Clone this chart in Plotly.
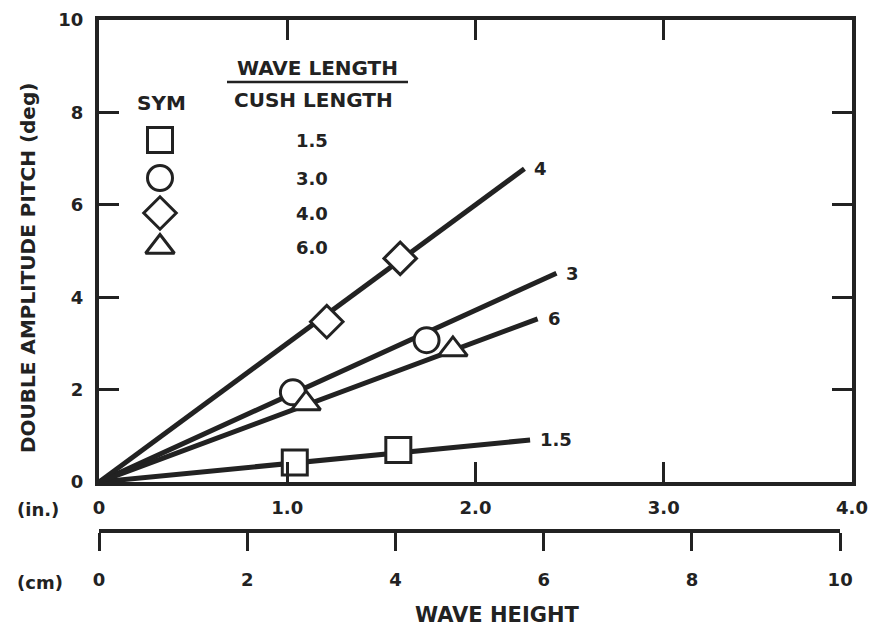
import plotly.graph_objs as go

# wave length / cushion length ratios
ratios = ['1.5', '3.0', '4.0', '6.0']
end_labels = ['1.5', '3', '4', '6']
symbols = ['square', 'circle', 'diamond', 'triangle-up']

# measured points (wave height in., double amplitude pitch deg)
pts_x = {'1.5': [1.04, 1.59], '3.0': [1.03, 1.74], '4.0': [1.21, 1.60], '6.0': [1.10, 1.88]}
pts_y = {'1.5': [0.42, 0.69], '3.0': [1.94, 3.07], '4.0': [3.47, 4.84], '6.0': [1.70, 2.87]}

# faired lines through the origin, end points
end_x = {'1.5': 2.29, '3.0': 2.43, '4.0': 2.26, '6.0': 2.33}
end_y = {'1.5': 0.91, '3.0': 4.52, '4.0': 6.78, '6.0': 3.53}

in_ticks = [0, 1, 2, 3, 4]
in_text = ['0', '1.0', '2.0', '3.0', '4.0']
cm_ticks = [0, 2, 4, 6, 8, 10]
y_ticks = [0, 2, 4, 6, 8, 10]

ink = '#222222'
font = dict(family='DejaVu Sans', size=18, color=ink, weight='bold')

# the page body adds 8px around the figure
OFF = 8
W, H = 878 - OFF, 632 - OFF
# figure geometry (pixels)
L, R, T, B = 99 - OFF, 852 - OFF, 20 - OFF, 531 - OFF
PLOT_BOTTOM = 482 - OFF


# page pixel -> paper / data coordinates (for the hand-placed legend)
def ppx(x):
    return (x - OFF - L) / (R - L)


def ppy(y):
    return (B - (y - OFF)) / (B - T)


def dx(x):
    return (x - OFF - L) / (R - L) * 4


def dy(y):
    return (PLOT_BOTTOM - (y - OFF)) / (PLOT_BOTTOM - T) * 10


data = []
for r in ratios:
    data.append(go.Scatter(x=[0, end_x[r]], y=[0, end_y[r]], mode='lines',
                           line=dict(color=ink, width=5), showlegend=False,
                           hoverinfo='skip'))
for r, s in zip(ratios, symbols):
    data.append(go.Scatter(x=pts_x[r], y=pts_y[r], mode='markers',
                           marker=dict(symbol=s, size=25, color='white',
                                       line=dict(color=ink, width=3)),
                           name=r, showlegend=False))

# legend symbols
leg_y = [140, 178, 213, 247]
data.append(go.Scatter(x=[dx(160)] * 4, y=[dy(v) for v in leg_y], mode='markers',
                       marker=dict(symbol=symbols, size=25, color='white',
                                   line=dict(color=ink, width=3)),
                       showlegend=False, hoverinfo='skip'))

# dummy trace so the cm scale is drawn
data.append(go.Scatter(x=[0], y=[0], xaxis='x2', yaxis='y', mode='markers',
                       marker=dict(opacity=0), showlegend=False, hoverinfo='skip'))

ann = []
for r, lab in zip(ratios, end_labels):
    ann.append(dict(x=end_x[r], y=end_y[r], xref='x', yref='y', text=lab,
                    showarrow=False, xanchor='left', yanchor='middle', xshift=8,
                    font=font))
hand = []
for v, ty in zip(ratios, leg_y):
    hand.append(dict(x=ppx(312), y=ppy(ty), text=v, font=font))
hand += [
    dict(x=ppx(161), y=ppy(103), text='SYM', font=dict(font, size=20)),
    dict(x=ppx(317), y=ppy(68), text='WAVE LENGTH', font=dict(font, size=20)),
    dict(x=ppx(313), y=ppy(100), text='CUSH LENGTH', font=dict(font, size=20)),
    dict(x=ppx(38), y=ppy(509), text='(in.)', font=font),
    dict(x=ppx(40), y=ppy(582), text='(cm)', font=font),
    dict(x=ppx(497), y=ppy(615), text='WAVE HEIGHT', font=dict(font, size=21)),
    dict(x=ppx(28), y=ppy(268), text='DOUBLE AMPLITUDE PITCH (deg)', textangle=-90,
         font=dict(font, size=20)),
]
for a in hand:
    a.update(xref='paper', yref='paper', showarrow=False,
             xanchor='center', yanchor='middle')
ann += hand

layout = go.Layout(
    width=W, height=H,
    margin=dict(l=L, r=W - R, t=T, b=H - B),
    paper_bgcolor='white', plot_bgcolor='rgba(0,0,0,0)',
    font=font,
    xaxis=dict(domain=[0, 1], range=[0, 4], anchor='y', automargin=False,
               tickvals=in_ticks, ticktext=in_text,
               ticks='inside', ticklen=20, tickwidth=3, tickcolor=ink,
               showline=True, linewidth=4, linecolor=ink, mirror='ticks',
               showgrid=False, zeroline=False, ticklabelstandoff=6),
    yaxis=dict(domain=[(B - PLOT_BOTTOM) / (B - T), 1], range=[0, 10], automargin=False,
               tickvals=y_ticks,
               ticks='inside', ticklen=20, tickwidth=3, tickcolor=ink,
               showline=True, linewidth=4, linecolor=ink, mirror='ticks',
               showgrid=False, zeroline=False, ticklabelstandoff=8),
    xaxis2=dict(domain=[0, 10 / 2.54 / 4], range=[0, 10], anchor='free', position=0,
                side='bottom', tickvals=cm_ticks, automargin=False,
                ticks='outside', ticklen=18, tickwidth=3, tickcolor=ink,
                showline=True, linewidth=3.5, linecolor=ink,
                showgrid=False, zeroline=False, ticklabelstandoff=14),
    shapes=[dict(type='line', xref='paper', yref='paper',
                 x0=ppx(227), x1=ppx(408), y0=ppy(82), y1=ppy(82),
                 line=dict(color=ink, width=2.5))],
    annotations=ann,
)

fig = go.Figure(data=data, layout=layout)
fig.write_html('out.html')
